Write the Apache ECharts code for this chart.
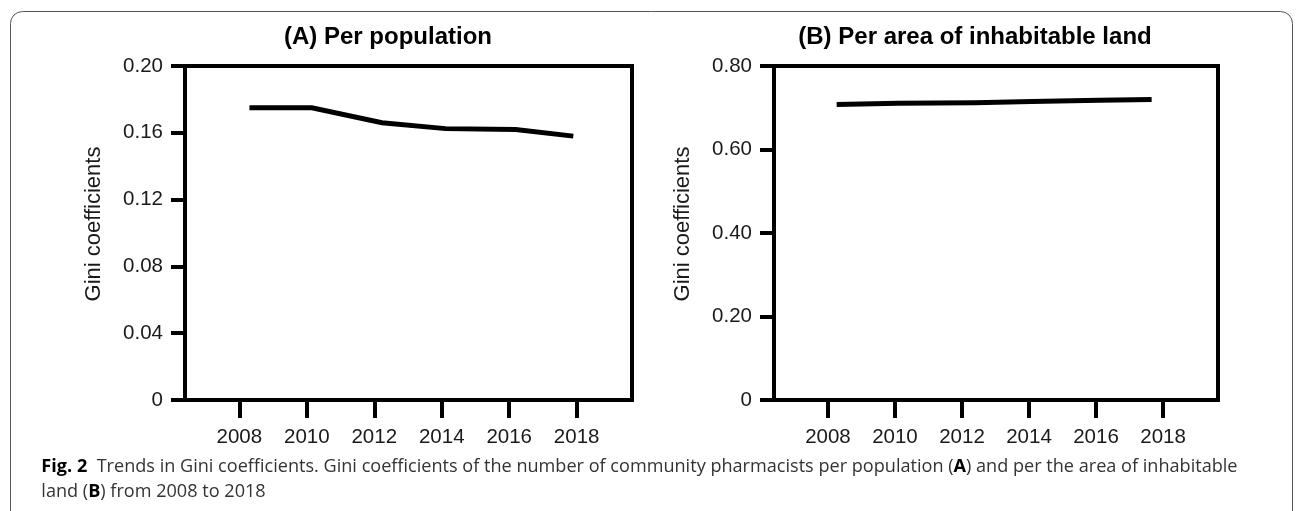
<!DOCTYPE html>
<html>
<head>
<meta charset="utf-8">
<script src="https://cdn.jsdelivr.net/npm/echarts@6/dist/echarts.min.js"></script>
<style>
html,body{margin:0;padding:0;background:#fff;}
#chart{width:1296px;height:511px;}
</style>
</head>
<body>
<div id="chart"></div>
<script>
// ---- data ----
const tickYears = [2008, 2010, 2012, 2014, 2016, 2018];
const yearsA = [2008.3, 2010.15, 2012.23, 2014.11, 2016.19, 2017.9];
const giniA = [0.175, 0.175, 0.166, 0.1625, 0.162, 0.158];
const yearsB = [2008.26, 2010.1, 2012.38, 2014.08, 2016.1, 2017.66];
const giniB = [0.708, 0.711, 0.712, 0.715, 0.718, 0.720];
const titleA = '(A) Per population';
const titleB = '(B) Per area of inhabitable land';
const yName = 'Gini coefficients';
const capFig = 'Fig. 2';
const capPre = '  Trends in ';
const capMid1 = 'Gini coefficients. Gini coefficients of the number of community pharmacists per population (';
const capA = 'A';
const capMid2 = ') and per the area of inhabitable';
const capLine2a = 'land (';
const capB = 'B';
const capLine2b = ') from 2008 to 2018';

const chart = echarts.init(document.getElementById('chart'), null, {renderer: 'canvas'});

const AX = '"Liberation Sans", Arial, Helvetica, sans-serif';
const CAP = '"Open Sans", "Noto Sans", sans-serif';

// caption fitting
const ctx = document.createElement('canvas').getContext('2d');
function tw(t, size, weight) { ctx.font = (weight || 'normal') + ' ' + size + 'px ' + CAP; return ctx.measureText(t).width; }
const base = 16;
const spanW = tw(capMid1, base) + tw(capA, base, 'bold') + tw(capMid2, base);
const capSize = base * (1238 - 180) / spanW;
const capX = 180 - tw(capFig, capSize, 'bold') - tw(capPre, capSize);

function xAxisCfg(gi) {
  return {
    type: 'value', gridIndex: gi, min: 2006.39, max: 2019.64,
    axisLine: {show: true, lineStyle: {color: '#000', width: 4}},
    axisTick: {show: true, customValues: tickYears, length: 18, lineStyle: {color: '#000', width: 4}},
    axisLabel: {show: true, customValues: tickYears, margin: 27, color: '#1a1a1a', fontSize: 20.5, fontFamily: AX,
      formatter: v => String(v)},
    splitLine: {show: false}
  };
}
function yAxisCfg(gi, max, interval) {
  return {
    type: 'value', gridIndex: gi, min: 0, max: max, interval: interval,
    name: yName, nameLocation: 'middle', nameGap: 80,
    nameTextStyle: {color: '#1a1a1a', fontSize: 22, fontFamily: AX, padding: [0, 0, 0, 18]},
    axisLine: {show: true, lineStyle: {color: '#000', width: 4}},
    axisTick: {show: true, length: 14, lineStyle: {color: '#000', width: 4}},
    axisLabel: {margin: 22, color: '#1a1a1a', fontSize: 20.5, fontFamily: AX,
      formatter: v => v === 0 ? '0' : v.toFixed(2)},
    splitLine: {show: false}
  };
}

const option = {
  animation: false,
  backgroundColor: '#fff',
  grid: [
    {left: 185, top: 66, width: 447, height: 334, show: true, borderColor: '#000', borderWidth: 4, backgroundColor: 'transparent'},
    {left: 774, top: 66, width: 444, height: 334, show: true, borderColor: '#000', borderWidth: 4, backgroundColor: 'transparent'}
  ],
  xAxis: [xAxisCfg(0), xAxisCfg(1)],
  yAxis: [yAxisCfg(0, 0.2, 0.04), yAxisCfg(1, 0.8, 0.2)],
  series: [
    {type: 'line', xAxisIndex: 0, yAxisIndex: 0, data: yearsA.map((x, i) => [x, giniA[i]]),
      showSymbol: false, symbol: 'none', lineStyle: {color: '#000', width: 5, cap: 'butt', join: 'miter'}},
    {type: 'line', xAxisIndex: 1, yAxisIndex: 1, data: yearsB.map((x, i) => [x, giniB[i]]),
      showSymbol: false, symbol: 'none', lineStyle: {color: '#000', width: 5, cap: 'butt', join: 'miter'}}
  ],
  graphic: [
    {type: 'rect', z: 0, silent: true, shape: {x: 10.5, y: 11.5, width: 1282, height: 512, r: 12},
      style: {fill: 'none', stroke: '#555', lineWidth: 1}},
    {type: 'text', x: 388, y: 37, style: {text: titleA, font: 'bold 24px ' + AX, fill: '#000',
      textAlign: 'center', align: 'center', textVerticalAlign: 'middle', verticalAlign: 'middle'}},
    {type: 'text', x: 975, y: 37, style: {text: titleB, font: 'bold 24px ' + AX, fill: '#000',
      textAlign: 'center', align: 'center', textVerticalAlign: 'middle', verticalAlign: 'middle'}},
    {type: 'text', x: capX, y: 467, style: {
      text: '{b|' + capFig + '}{n|' + capPre + capMid1 + '}{b|' + capA + '}{n|' + capMid2 + '}',
      rich: {
        b: {fontSize: capSize, fontFamily: CAP, fontWeight: 'bold', fill: '#000'},
        n: {fontSize: capSize, fontFamily: CAP, fontWeight: 'normal', fill: '#333'}
      },
      fontSize: capSize, fontFamily: CAP, fill: '#333',
      textAlign: 'left', align: 'left', textVerticalAlign: 'middle', verticalAlign: 'middle'}},
    {type: 'text', x: capX, y: 492, style: {
      text: '{n|' + capLine2a + '}{b|' + capB + '}{n|' + capLine2b + '}',
      rich: {
        b: {fontSize: capSize, fontFamily: CAP, fontWeight: 'bold', fill: '#000'},
        n: {fontSize: capSize, fontFamily: CAP, fontWeight: 'normal', fill: '#333'}
      },
      fontSize: capSize, fontFamily: CAP, fill: '#333',
      textAlign: 'left', align: 'left', textVerticalAlign: 'middle', verticalAlign: 'middle'}}
  ]
};
chart.setOption(option);
</script>
</body>
</html>
